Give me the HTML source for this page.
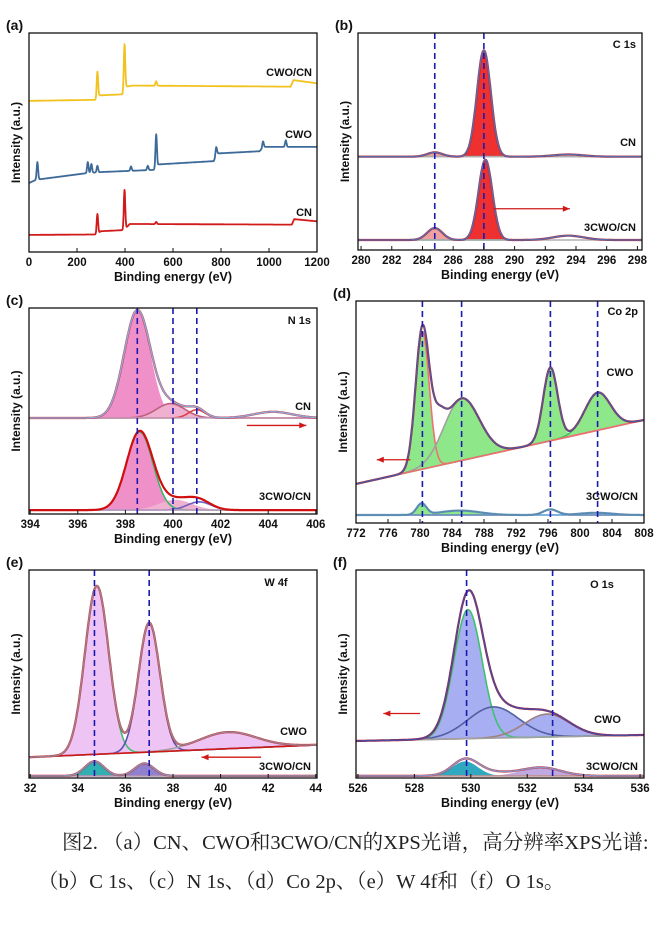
<!DOCTYPE html>
<html><head><meta charset="utf-8"><style>
body{margin:0;background:#fff;width:668px;height:931px;overflow:hidden}
svg text{font-family:"Liberation Sans",Arial,sans-serif;font-weight:bold}
.cap{position:absolute;font-family:"Liberation Serif","Noto Serif CJK SC",serif;font-size:20.5px;color:#222;white-space:nowrap}
</style></head><body>
<svg id="fig" width="668" height="931" style="position:absolute;left:0;top:0"></svg>
<div class="cap" style="top:825px;left:62px">图2. （a）CN、CWO和3CWO/CN的XPS光谱，高分辨率XPS光谱:</div>
<div class="cap" style="top:864px;left:38px">（b）C 1s、（c）N 1s、（d）Co 2p、（e）W 4f和（f）O 1s。</div>
<script>
// ---- panel (a) survey data ----
const surveyTicks=[0,200,400,600,800,1000,1200];
const yellowBase=[[0,0.69],[280,0.695],[292,0.715],[390,0.72],[405,0.755],[430,0.76],[1090,0.755],[1102,0.785],[1200,0.77]];
const yellowPeaks=[[285,0.12],[398,0.21],[530,0.02]];
const blueBase=[[0,0.315],[30,0.33],[240,0.36],[300,0.365],[520,0.375],[540,0.40],[770,0.415],[785,0.45],[960,0.46],[980,0.48],[1200,0.48]];
const bluePeaks=[[35,0.08],[245,0.05],[260,0.04],[285,0.03],[425,0.02],[495,0.02],[530,0.15],[780,0.04],[975,0.03],[1070,0.03]];
const redBase=[[0,0.078],[280,0.08],[300,0.095],[395,0.10],[420,0.128],[1095,0.125],[1105,0.15],[1200,0.14]];
const redPeaks=[[285,0.09],[398,0.18],[530,0.01]];
// ---- panel (b) C 1s ----
const cTicks=[280,282,284,286,288,290,292,294,296,298];
const cCNpeaks=[[284.8,0.02,0.5],[288.0,0.49,0.45],[293.5,0.01,1]];
const cMixPeaks=[[284.8,0.055,0.5],[288.1,0.37,0.45],[293.5,0.02,1]];
const cLines=[284.8,288.0];
// ---- panel (c) N 1s ----
const nTicks=[394,396,398,400,402,404,406];
const nCNpeaks=[[398.5,0.52,0.55],[399.9,0.07,0.6],[401.0,0.04,0.35],[404.2,0.03,0.8]];
const nMixPeaks=[[398.6,0.38,0.55],[400.1,0.05,0.7],[401.1,0.04,0.5]];
const nLines=[398.5,400.0,401.0];
// ---- panel (d) Co 2p ----
const coTicks=[772,776,780,784,788,792,796,800,804,808];
const coCWOpeaks=[[780.3,0.62,0.85],[782.3,0.12,0.8],[785.2,0.28,2.2],[796.3,0.33,0.9],[802.2,0.17,1.6]];
const coMixPeaks=[[780.2,0.05,0.6],[785,0.02,2.5],[796.3,0.025,0.9],[802,0.01,2]];
const coLines=[780.3,785.2,796.3,802.2];
// ---- panel (e) W 4f ----
const wTicks=[32,34,36,38,40,42,44];
const wCWOpeaks=[[34.8,0.81,0.5],[37.0,0.62,0.45],[40.3,0.08,1.2]];
const wMixPeaks=[[34.7,0.07,0.4],[36.8,0.06,0.4]];
const wLines=[34.7,37.0];
// ---- panel (f) O 1s ----
const oTicks=[526,528,530,532,534,536];
const oCWOpeaks=[[529.9,0.62,0.5],[530.8,0.15,0.9],[532.7,0.11,0.8]];
const oMixPeaks=[[529.8,0.07,0.45],[530.5,0.02,0.8],[532.5,0.04,0.7]];
const oLines=[529.85,532.9];

const NS='http://www.w3.org/2000/svg';const svg=document.getElementById('fig');
function mk(tag,at,parent){const e=document.createElementNS(NS,tag);for(const k in at)e.setAttribute(k,at[k]);(parent||svg).appendChild(e);return e;}
function txt(x,y,s,size,anchor,name,rot){const e=mk('text',{x:x,y:y,'font-size':size,'text-anchor':anchor||'start',fill:'#111'});if(rot)e.setAttribute('transform','rotate(-90 '+x+' '+y+')');e.textContent=s;

return e;}
function axes(P){
 const sx=v=>P.x0+(v-P.xr[0])/(P.xr[1]-P.xr[0])*(P.x1-P.x0);
 const sy=f=>P.y1-f*(P.y1-P.y0);
 const g=mk('g',{});
 
 
 P.g=g;P.sx=sx;P.sy=sy;return P;}
function frame(P){
 const r=mk('rect',{x:P.x0,y:P.y0,width:P.x1-P.x0,height:P.y1-P.y0,fill:'none',stroke:'#111','stroke-width':1.3},P.g);
 
 
 P.ticks.forEach(t=>{const x=P.sx(t);mk('line',{x1:x,x2:x,y1:P.y1,y2:P.y1-4,stroke:'#111','stroke-width':1},P.g);
  txt(x,P.y1+14,String(t),11.5,'middle','x-tick-label');});
 txt((P.x0+P.x1)/2,P.y1+29,'Binding energy (eV)',12.5,'middle','x-axis-title');
 txt(P.x0-9,(P.y0+P.y1)/2,'Intensity (a.u.)',12,'middle','y-axis-title',true);
 txt(P.x0-23,P.y0-3,'('+P.id+')',14,'start','panel-label');}
function gauss(x,p){return p[1]*Math.exp(-Math.pow(x-p[0],2)/(2*p[2]*p[2]));}
function baseAt(x,P,b){return b[0]+(x-P.xr[0])/(P.xr[1]-P.xr[0])*(b[1]-b[0]);}
function path(pts,P){return pts.map((p,i)=>(i?'L':'M')+P.sx(p[0]).toFixed(1)+' '+P.sy(p[1]).toFixed(1)).join(' ');}
function samples(P,fn,n){const a=[];for(let i=0;i<=n;i++){const x=P.xr[0]+(P.xr[1]-P.xr[0])*i/n;a.push([x,fn(x)]);}return a;}
function line(P,pts,col,w,name){const e=mk('path',{d:path(pts,P),fill:'none',stroke:col,'stroke-width':w,'stroke-linejoin':'round'},P.g);
 
 return e;}
function area(P,pts,basefn,col,name){const top=path(pts,P);const bot=pts.slice().reverse().map(p=>'L'+P.sx(p[0]).toFixed(1)+' '+P.sy(basefn(p[0])).toFixed(1)).join(' ');
 const e=mk('path',{d:top+' '+bot+' Z',fill:col,stroke:'none'},P.g);
 
 }
function vlines(P,arr){arr.forEach(v=>{const x=P.sx(v);const e=mk('line',{x1:x,x2:x,y1:P.y0,y2:P.y1,stroke:'#1a1ab0','stroke-width':1.6,'stroke-dasharray':'6 4'},P.g);
 
 });}
function arrow(P,xa,xb,yf,name){const y=P.sy(yf),x1=P.sx(xa),x2=P.sx(xb);const d=x2>x1?-1:1;
 const g=mk('g',{},P.g);
 
 
 mk('line',{x1:x1,x2:x2,y1:y,y2:y,stroke:'#d01818','stroke-width':1.3},g);
 mk('path',{d:`M${x2} ${y} L${x2+d*7} ${y-3} L${x2+d*7} ${y+3} Z`,fill:'#d01818'},g);}
function spectrum(P,b,peaks,opt){
 const bf=x=>baseAt(x,P,b);
 const env=samples(P,x=>bf(x)+peaks.reduce((s,p)=>s+gauss(x,p),0),400);
 (opt.fills||[]).forEach((f,i)=>{const p=peaks[f[0]];area(P,samples(P,x=>bf(x)+gauss(x,p),400),bf,f[1],'component-fill');});
 (opt.comps||[]).forEach(c=>{const p=peaks[c[0]];line(P,samples(P,x=>bf(x)+gauss(x,p),400),c[1],1.6,'fit-component');});
 line(P,samples(P,bf,10),opt.baseCol||'#e87070',1.6,'background-line');
 line(P,env,opt.dataCol||'#d01010',2.2,'measured-data');
 line(P,env,opt.envCol||'#5c6aa8',1.6,'fit-envelope');
}

// ---------- (a) ----------
let A=axes({id:'a',x0:29,y0:33,x1:317,y1:252,xr:[0,1200],ticks:surveyTicks});
function interp(base,x){for(let i=1;i<base.length;i++){if(x<=base[i][0]){const a=base[i-1],c=base[i];return a[1]+(x-a[0])/(c[0]-a[0])*(c[1]-a[1]);}}return base[base.length-1][1];}
function survey(base,pk,col,name){const pts=samples(A,x=>interp(base,x)+pk.reduce((s,p)=>s+p[1]*Math.exp(-Math.pow(x-p[0],2)/(2*9)),0),1200);line(A,pts,col,1.8,name);}
survey(yellowBase,yellowPeaks,'#f2c21e','survey-cwo-cn');
survey(blueBase,bluePeaks,'#3d6a98','survey-cwo');
survey(redBase,redPeaks,'#d11a1a','survey-cn');
frame(A);
txt(312,76,'CWO/CN',11,'end','label-cwo-cn');txt(312,138,'CWO',11,'end','label-cwo');txt(312,216,'CN',11,'end','label-cn');

// ---------- (b) ----------
let B=axes({id:'b',x0:358,y0:33,x1:642,y1:250,xr:[279.8,298.3],ticks:cTicks});
spectrum(B,[0.43,0.43],cCNpeaks,{fills:[[0,'#f0a0a0'],[1,'#ee3030']],comps:[[2,'#30a090']],baseCol:'#b0b0b0'});
spectrum(B,[0.046,0.046],cMixPeaks,{fills:[[0,'#f0a0a0'],[1,'#ee3030']],comps:[[2,'#30a090']],baseCol:'#b0b0b0'});
vlines(B,cLines);arrow(B,288.6,293.6,0.19,'shift-arrow');
frame(B);
txt(636,48,'C 1s',11,'end','label-c1s');txt(636,146,'CN',11,'end','label-cn');txt(636,231,'3CWO/CN',11,'end','label-3cwo-cn');

// ---------- (c) ----------
let C=axes({id:'c',x0:29,y0:308,x1:317,y1:514,xr:[393.95,406.05],ticks:nTicks});
spectrum(C,[0.466,0.466],nCNpeaks,{fills:[[0,'#f090c8'],[1,'#f0b0d0']],comps:[[1,'#c06080'],[2,'#e04040']],envCol:'#90a8d8',baseCol:'#c0a0c0'});
spectrum(C,[0.019,0.019],nMixPeaks,{fills:[[0,'#f090c8'],[1,'#f0b0d0']],comps:[[0,'#40b070'],[2,'#7060c0']],envCol:'#d01010',baseCol:'#c0a0c0'});
vlines(C,nLines);arrow(C,403.1,405.6,0.43,'shift-arrow');
frame(C);
txt(311,324,'N 1s',11,'end','label-n1s');txt(311,410,'CN',11,'end','label-cn');txt(311,500,'3CWO/CN',11,'end','label-3cwo-cn');

// ---------- (d) ----------
let D=axes({id:'d',x0:356,y0:301,x1:644,y1:523,xr:[772,808],ticks:coTicks});
spectrum(D,[0.176,0.464],coCWOpeaks,{fills:[[0,'#8ee88a'],[2,'#8ee88a'],[3,'#8ee88a'],[4,'#8ee88a']],comps:[[0,'#f07070'],[2,'#a0a0a0'],[4,'#40c060']],envCol:'#4a5aa0',baseCol:'#f07070'});
spectrum(D,[0.036,0.036],coMixPeaks,{fills:[[0,'#8ee88a'],[1,'#8ee88a']],comps:[[2,'#d04040']],envCol:'#5a8ab0',dataCol:'#6a9ac0',baseCol:'#5a9ad0'});
vlines(D,coLines);arrow(D,778.8,774.6,0.285,'shift-arrow');
frame(D);
txt(638,315,'Co 2p',11,'end','label-co2p');txt(620,376,'CWO',11,'middle','label-cwo');txt(638,500,'3CWO/CN',11,'end','label-3cwo-cn');

// ---------- (e) ----------
let E=axes({id:'e',x0:29,y0:570,x1:317,y1:778,xr:[31.95,44.05],ticks:wTicks});
spectrum(E,[0.10,0.159],wCWOpeaks,{fills:[[0,'#eec4f4'],[1,'#eec4f4'],[2,'#eec4f4']],comps:[[0,'#40c070'],[1,'#6050b0'],[2,'#a0a0a0']],envCol:'#a08090',baseCol:'#d01818'});
spectrum(E,[0.01,0.01],wMixPeaks,{fills:[[0,'#30b0b0'],[1,'#9080d0']],envCol:'#9090b0',baseCol:'#b090b0'});
vlines(E,wLines);arrow(E,41.7,39.2,0.10,'shift-arrow');
frame(E);
txt(276,586,'W 4f',11,'middle','label-w4f');txt(307,735,'CWO',11,'end','label-cwo');txt(311,770,'3CWO/CN',11,'end','label-3cwo-cn');

// ---------- (f) ----------
let F=axes({id:'f',x0:356,y0:570,x1:644,y1:778,xr:[525.93,536.14],ticks:oTicks});
spectrum(F,[0.178,0.207],oCWOpeaks,{fills:[[0,'#a8aef2'],[1,'#a8aef2'],[2,'#a8aef2']],comps:[[0,'#40c070'],[1,'#5060a0'],[2,'#a08080']],envCol:'#4a4aa0',baseCol:'#a0a0a0'});
spectrum(F,[0.01,0.01],oMixPeaks,{fills:[[0,'#30a8c0'],[2,'#c0a8e0']],envCol:'#9090c0',baseCol:'#c09090'});
vlines(F,oLines);arrow(F,528.2,526.9,0.31,'shift-arrow');
frame(F);
txt(602,588,'O 1s',11,'middle','label-o1s');txt(621,723,'CWO',11,'end','label-cwo');txt(638,770,'3CWO/CN',11,'end','label-3cwo-cn');
</script>
</body></html>
